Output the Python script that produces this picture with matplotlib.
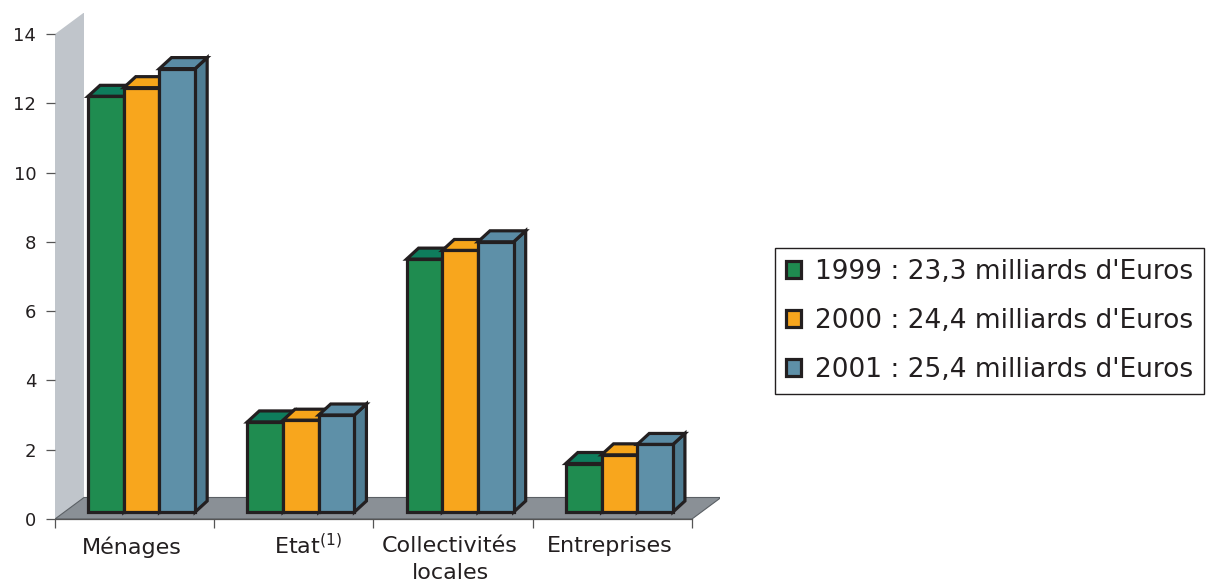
import matplotlib
matplotlib.use('Agg')
import matplotlib.pyplot as plt
from matplotlib.patches import Polygon, Patch
from matplotlib.transforms import blended_transform_factory, ScaledTranslation
import numpy as np

# ---------------- data ----------------
categories = ['Ménages', 'Etat$^{(1)}$', 'Collectivités\nlocales', 'Entreprises']
series_labels = ["1999 : 23,3 milliards d'Euros",
                 "2000 : 24,4 milliards d'Euros",
                 "2001 : 25,4 milliards d'Euros"]
v1999 = [12.0, 2.6, 7.3, 1.4]
v2000 = [12.25, 2.65, 7.55, 1.65]
v2001 = [12.8, 2.8, 7.8, 1.95]
yticks = [0, 2, 4, 6, 8, 10, 12, 14]

# ---------------- style ----------------
front_colors = ['#1f8c50', '#f8a61d', '#5e90a8']
top_colors = ['#0e7d5c', '#f6a51a', '#5a8ba4']
side_colors = ['#177a45', '#e0941a', '#4f7d93']
EDGE = '#231f20'
TXT = '#231f20'
WALL = '#c0c5cb'
FLOOR = '#8a9096'

W, H = 1206, 583
fig = plt.figure(figsize=(W / 100, H / 100), dpi=100)
AX_L, AX_R, AX_B, AX_T = 55, 720, 519, 13          # axes box in pixels
ax = fig.add_axes([AX_L / W, 1 - AX_B / H, (AX_R - AX_L) / W, (AX_B - AX_T) / H])
PX_CAT = 159.25   # pixels per category
PX_UNIT = 34.64   # pixels per value unit
ncat = len(categories)
xmin = -0.5
ax.set_xlim(xmin, xmin + (AX_R - AX_L) / PX_CAT)
ax.set_ylim(0, (AX_B - AX_T) / PX_UNIT)


def px_x(p):
    return p / PX_CAT


def px_y(p):
    return p / PX_UNIT


# depth of the floor / wall, and of each bar
FD_X, FD_Y = px_x(29), px_y(21.5)
BD_X, BD_Y = px_x(12), px_y(11)
SHIFT_X, SHIFT_Y = px_x(7), px_y(7)
bw = px_x(35.7)

xl, xr = -0.5, ncat - 0.5
ytop = yticks[-1]
floor = Polygon([(xl, 0), (xr, 0), (xr + FD_X, FD_Y), (xl + FD_X, FD_Y)],
                closed=True, facecolor=FLOOR, edgecolor='#5a5f64', lw=0.8, zorder=1)
wall = Polygon([(xl, 0), (xl, ytop), (xl + FD_X, ytop + FD_Y), (xl + FD_X, FD_Y)],
               closed=True, facecolor=WALL, edgecolor='none', zorder=0.9)
ax.add_patch(wall)
ax.add_patch(floor)

series = [v1999, v2000, v2001]
nser = len(series)
for j, vals in enumerate(series):
    z = 3 + j * 0.1
    for i, v in enumerate(vals):
        x0 = i + SHIFT_X + (j - nser / 2) * bw
        y0 = SHIFT_Y
        y1 = y0 + v
        side = Polygon([(x0 + bw, y0), (x0 + bw + BD_X, y0 + BD_Y),
                        (x0 + bw + BD_X, y1 + BD_Y), (x0 + bw, y1)], closed=True,
                       facecolor=side_colors[j], edgecolor=EDGE, lw=2.3,
                       joinstyle='miter', zorder=z)
        top = Polygon([(x0, y1), (x0 + bw, y1), (x0 + bw + BD_X, y1 + BD_Y),
                       (x0 + BD_X, y1 + BD_Y)], closed=True,
                      facecolor=top_colors[j], edgecolor=EDGE, lw=2.3,
                      joinstyle='miter', zorder=z)
        ax.add_patch(side)
        ax.add_patch(top)
    xs = [i + SHIFT_X + (j - nser / 2) * bw for i in range(ncat)]
    ax.bar(xs, vals, width=bw, bottom=SHIFT_Y, align='edge',
           color=front_colors[j], edgecolor=EDGE, lw=2.3, zorder=z + 0.01)

# ---------------- axes ----------------
for s in ['top', 'right', 'left']:
    ax.spines[s].set_visible(False)
ax.spines['bottom'].set_bounds(xl, xr)
ax.spines['bottom'].set_color('#555555')
ax.spines['bottom'].set_linewidth(0.9)
ax.spines['bottom'].set_zorder(1.5)

ax.set_yticks(yticks)
ax.set_yticklabels([str(t) for t in yticks])
ax.tick_params(axis='y', length=6.5, width=0.9, color='#555555',
               labelsize=13, labelcolor=TXT, pad=7)
ax.set_xticks(np.arange(ncat + 1) - 0.5)
ax.set_xticklabels([])
ax.tick_params(axis='x', length=6.5, width=0.9, color='#555555')

trans = blended_transform_factory(ax.transData, ax.transAxes)
for i, lab in enumerate(categories):
    if i == 1:
        offx, offy = 14 / 100, -14 / 100
    else:
        offx, offy = -3 / 100, -17 / 100
    t = trans + ScaledTranslation(offx, offy, fig.dpi_scale_trans)
    ax.text(i, 0, lab, transform=t, ha='center', va='top', fontsize=16,
            color=TXT, linespacing=1.45, multialignment='center')

# ---------------- legend ----------------
handles = [Patch(facecolor=c, edgecolor=EDGE, lw=2.3) for c in front_colors]
leg = fig.legend(handles, series_labels, loc='upper left',
                 bbox_to_anchor=(775 / W, 1 - 248.5 / H), frameon=True, fancybox=False,
                 edgecolor=EDGE, framealpha=1, fontsize=19, handlelength=0.6,
                 handleheight=0.6, handletextpad=0.52, labelspacing=0.87,
                 borderpad=0.4, borderaxespad=0)
leg.get_frame().set_linewidth(1.0)
for t in leg.get_texts():
    t.set_color(TXT)

fig.savefig('out.png', dpi=100)
